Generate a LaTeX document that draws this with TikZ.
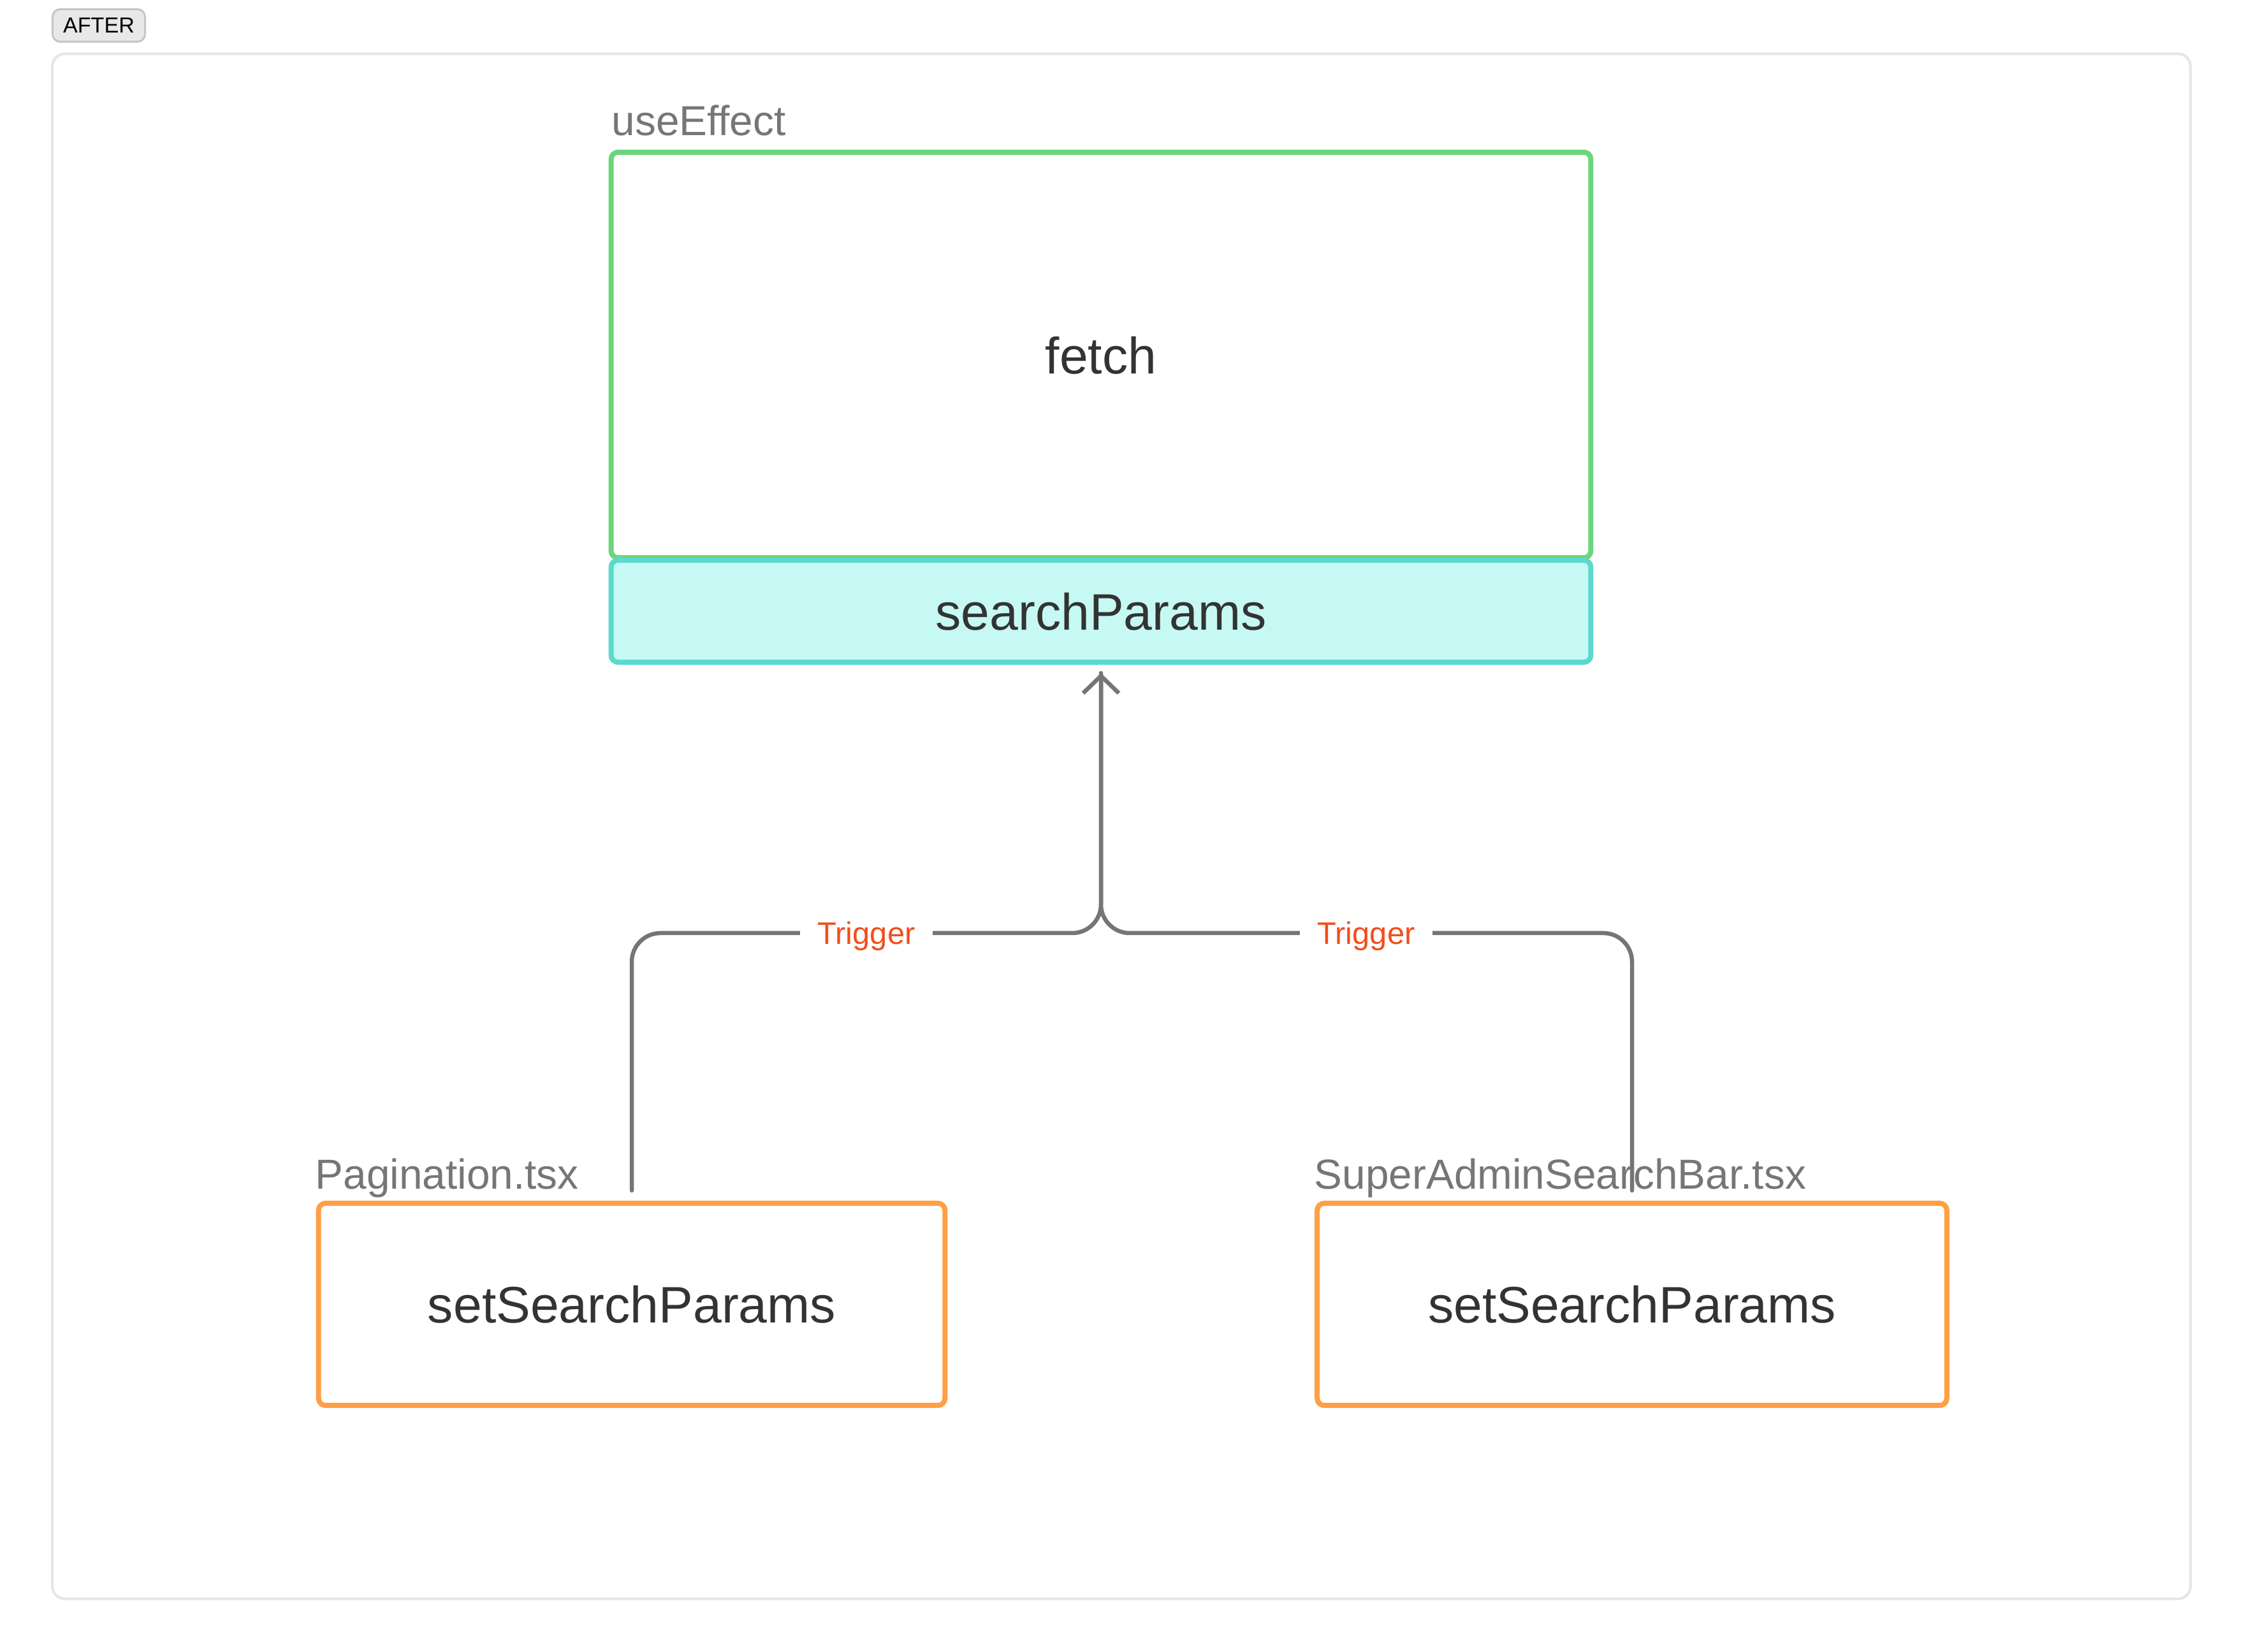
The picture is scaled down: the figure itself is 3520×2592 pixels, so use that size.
\documentclass[tikz,border=0pt]{standalone}
\usepackage{fontspec}
\setmainfont{Liberation Sans}
\usetikzlibrary{arrows.meta,calc}
\definecolor{framegray}{HTML}{E5E5E5}
\definecolor{badgefill}{HTML}{E8E8E8}
\definecolor{badgedraw}{HTML}{C6C6C6}
\definecolor{labelgray}{HTML}{767676}
\definecolor{maintext}{HTML}{333333}
\definecolor{boxgreen}{HTML}{6AD67B}
\definecolor{boxcyanline}{HTML}{5CD9CC}
\definecolor{boxcyanfill}{HTML}{C6F9F3}
\definecolor{boxorange}{HTML}{FF9F43}
\definecolor{triggerred}{HTML}{F24E1E}
\definecolor{linkgray}{HTML}{757575}
\begin{document}
\begin{tikzpicture}[x=0.01cm,y=-0.01cm,
  box/.style={draw, rounded corners=0.11cm, line width=0.08cm, text=maintext,
    font=\fontsize{22.9}{27}\selectfont, text depth=0pt, inner sep=0pt},
  grouplabel/.style={anchor=base west, text=labelgray,
    font=\fontsize{18.7}{22}\selectfont, inner sep=0pt},
  trig/.style={fill=white, text=triggerred, font=\fontsize{13.9}{16}\selectfont,
    text depth=0pt, inner xsep=0.27cm, inner ysep=0.06cm},
  link/.style={draw=linkgray, line width=0.065cm, line cap=round, rounded corners=0.45cm},
]
\useasboundingbox[fill=white] (0,0) rectangle (3520,2592);
% outer frame
\node[draw=framegray, line width=0.04cm, rounded corners=0.2cm, minimum width=33.52cm,
  minimum height=24.23cm, inner sep=0pt] (frame) at (1759,1296.5) {};
% badge
\node[draw=badgedraw, fill=badgefill, line width=0.03cm, rounded corners=0.12cm,
  minimum width=1.45cm, minimum height=0.51cm, inner sep=0pt, text=black,
  font=\fontsize{9.7}{11}\selectfont] (badge) at (155,40) {AFTER};
% useEffect group
\node[box, draw=boxgreen, fill=white, minimum width=15.36cm, minimum height=6.36cm] (ue) at (1727,557) {fetch};
\node[box, draw=boxcyanline, fill=boxcyanfill, minimum width=15.36cm, minimum height=1.60cm] (sp) at (1727,959) {searchParams};
\node[grouplabel] (uelabel) at (959,213) {useEffect};
% bottom boxes
\node[box, draw=boxorange, fill=white, minimum width=9.82cm, minimum height=3.17cm] (lb) at (991,2046.5) {setSearchParams};
\node[box, draw=boxorange, fill=white, minimum width=9.87cm, minimum height=3.17cm] (rb) at (2560,2046.5) {setSearchParams};
\node[grouplabel] (lblabel) at (494,1865) {Pagination.tsx};
\node[grouplabel] (rblabel) at (2061,1865) {SuperAdminSearchBar.tsx};
% connectors
\coordinate (ls) at ($(lb.north)+(0,-16)$);
\coordinate (rs) at ($(rb.north)+(0,-16)$);
\coordinate (jn) at (1727,1464);
\draw[link, -{Straight Barb[length=0.27cm,width=0.56cm]}, shorten >=0.13cm] (ls) |- (jn) -- (sp.south);
\draw[link, shorten >=0.13cm] (rs) |- (jn) -- (sp.south);
\node[trig] (t1) at (1359,1464) {Trigger};
\node[trig] (t2) at (2143,1464) {Trigger};
\end{tikzpicture}
\end{document}
